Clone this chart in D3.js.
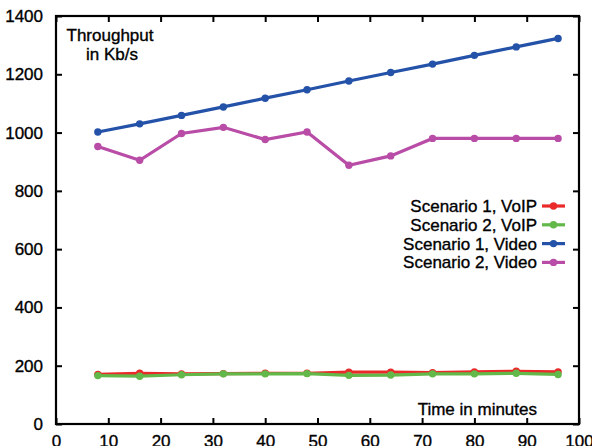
<!DOCTYPE html>
<html><head><meta charset="utf-8">
<script src="https://cdn.jsdelivr.net/npm/d3@7"></script>
<style>body{margin:0;background:#fff}svg{display:block}text{font-family:"Liberation Sans",Arial,sans-serif;fill:#000;stroke:#000;stroke-width:0.35px}</style>
</head><body><svg id="c" width="592" height="446"></svg>
<script>
const minutes = [8,16,24,32,40,48,56,64,72,80,88,96];
const voip1 = [170,174,172,173,174,174,178,178,176,179,181,179];
const voip2 = [166,164,169,172,172,173,167,168,172,172,174,170];
const video1 = [1002,1030,1059,1088,1118,1147,1177,1206,1235,1265,1294,1323];
const video2 = [952,905,997,1018,976,1002,888,920,980,980,980,980];
const seriesNames = ["Scenario 1, VoIP","Scenario 2, VoIP","Scenario 1, Video","Scenario 2, Video"];
const seriesColors = ["#ea2a2a","#62b848","#2352a8","#b84ca6"];
const xTicks = [0,10,20,30,40,50,60,70,80,90,100];
const yTicks = [0,200,400,600,800,1000,1200,1400];

const svg = d3.select("#c");
const L=56, R=579, T=16, B=424;
const x = d3.scaleLinear().domain([0,100]).range([L,R]);
const y = d3.scaleLinear().domain([0,1400]).range([B,T]);

const series = [voip1, voip2, video1, video2];
const order = [2,3,0,1];
const line = d3.line().x((d,i)=>x(minutes[i])).y(d=>y(d));
order.forEach(k=>{
  const g = svg.append("g");
  g.append("path").attr("d", line(series[k])).attr("fill","none")
    .attr("stroke", seriesColors[k]).attr("stroke-width",3.2);
  g.selectAll("circle").data(series[k]).join("circle")
    .attr("cx",(d,i)=>x(minutes[i])).attr("cy",d=>y(d)).attr("r",3.7)
    .attr("fill",seriesColors[k]);
});

svg.append("rect").attr("x",L).attr("y",T).attr("width",R-L).attr("height",B-T)
  .attr("fill","none").attr("stroke","#000").attr("stroke-width",2.2);

const fs = 17;
const fmt = d3.format("d");
const xb = svg.append("g").attr("transform",`translate(0,${B})`)
  .call(d3.axisBottom(x).tickValues(xTicks).tickFormat(fmt).tickSizeInner(-6).tickSizeOuter(0).tickPadding(11));
xb.select(".domain").remove();
xb.selectAll("line").attr("stroke-width",2);
xb.selectAll("text").attr("font-size",fs).attr("font-family","Liberation Sans, Arial");
const xt = svg.append("g").attr("transform",`translate(0,${T})`)
  .call(d3.axisTop(x).tickValues(xTicks).tickSizeInner(-6).tickSizeOuter(0).tickFormat(""));
xt.select(".domain").remove(); xt.selectAll("line").attr("stroke-width",2);
const yl = svg.append("g").attr("transform",`translate(${L},0)`)
  .call(d3.axisLeft(y).tickValues(yTicks).tickFormat(fmt).tickSizeInner(-6).tickSizeOuter(0).tickPadding(13));
yl.select(".domain").remove(); yl.selectAll("line").attr("stroke-width",2);
yl.selectAll("text").attr("font-size",fs).attr("font-family","Liberation Sans, Arial");
const yr = svg.append("g").attr("transform",`translate(${R},0)`)
  .call(d3.axisRight(y).tickValues(yTicks).tickSizeInner(-6).tickSizeOuter(0).tickFormat(""));
yr.select(".domain").remove(); yr.selectAll("line").attr("stroke-width",2);

svg.append("text").attr("x",110).attr("y",41).attr("text-anchor","middle").attr("font-size",fs).text("Throughput");
svg.append("text").attr("x",112).attr("y",60).attr("text-anchor","middle").attr("font-size",fs).text("in Kb/s");
svg.append("text").attr("x",537).attr("y",415).attr("text-anchor","end").attr("font-size",fs).text("Time in minutes");

const lg = svg.append("g");
seriesNames.forEach((n,i)=>{
  const yy = 206 + i*18.8;
  lg.append("text").attr("x",537).attr("y",yy+6).attr("text-anchor","end").attr("font-size",fs).text(n);
  lg.append("line").attr("x1",542).attr("x2",565).attr("y1",yy).attr("y2",yy)
    .attr("stroke",seriesColors[i]).attr("stroke-width",3.2);
  lg.append("circle").attr("cx",553.5).attr("cy",yy).attr("r",3.7).attr("fill",seriesColors[i]);
});
</script></body></html>
